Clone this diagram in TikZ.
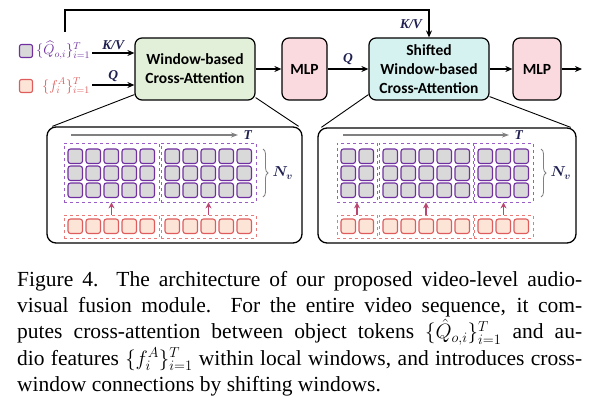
\documentclass[tikz,border=0pt]{standalone}
\usepackage{amsmath,amssymb}
\usepackage{fontspec}
\setmainfont{Liberation Serif}
\newfontfamily\boxfont{Carlito}
\usetikzlibrary{calc,fit,arrows.meta,decorations.pathreplacing}
\definecolor{tokpurple}{HTML}{7030A0}
\definecolor{winpurple}{HTML}{9A5CC6}
\definecolor{tokgray}{HTML}{D9D9D9}
\definecolor{audred}{HTML}{DE5C5C}
\definecolor{winred}{HTML}{E87A7A}
\definecolor{audfill}{HTML}{FCE4D6}
\definecolor{attgreen}{HTML}{E2F0D9}
\definecolor{mlppink}{HTML}{FADADF}
\definecolor{shiftcyan}{HTML}{D5F2F0}
\definecolor{lblnavy}{HTML}{1F2050}
\definecolor{upred}{HTML}{B84670}
\colorlet{timegray}{black!50}

\tikzset{
  blockbox/.style={draw, line width=1.2pt, rounded corners=7pt, align=center,
    inner sep=0pt, font=\boxfont\bfseries\fontsize{15.5}{19}\selectfont},
  panel/.style={draw, line width=1.3pt, rounded corners=9pt, inner sep=0pt},
  vidwin/.style={draw=winpurple, dashed, line width=0.8pt, inner sep=0pt},
  audwin/.style={draw=winred, dashed, line width=0.8pt, inner sep=0pt},
  vtok/.style={draw=tokpurple, fill=tokgray, line width=1.1pt, rounded corners=2.5pt},
  atok/.style={draw=audred, fill=audfill, line width=1.1pt, rounded corners=2.5pt},
  flow/.style={-{Stealth[length=7pt,width=6pt]}, line width=1.3pt},
  liftarrow/.style={draw=upred, -{Stealth[length=6pt,width=6pt]}, line width=1.3pt},
  timeline/.style={draw=timegray, -{Stealth[length=7pt,width=5pt]}, line width=1.4pt},
  lbl/.style={text=lblnavy, font=\bfseries\itshape\fontsize{13.5}{15}\selectfont, inner sep=1pt},
  legtxt/.style={font=\fontsize{14.5}{17}\selectfont, inner sep=0pt, anchor=west},
}

\begin{document}
\begin{tikzpicture}[x=1pt, y=-1pt]
  \useasboundingbox (0,0) rectangle (596,406);

  % main blocks
  \node[blockbox, fill=attgreen, minimum width=120pt, minimum height=62pt] (wca) at (195,69) {Window-based\\Cross-Attention};
  \node[blockbox, fill=mlppink, minimum width=45pt, minimum height=62pt] (mlpa) at (304.5,69) {MLP};
  \node[blockbox, fill=shiftcyan, minimum width=120pt, minimum height=62pt] (swca) at (429,69) {Shifted\\Window-based\\Cross-Attention};
  \node[blockbox, fill=mlppink, minimum width=48pt, minimum height=62pt] (mlpb) at (537,69) {MLP};

  % legend
  \node[draw=tokpurple, fill=tokgray, line width=1.1pt, rounded corners=2pt, minimum size=13pt, inner sep=0pt] (qkey) at (26,51) {};
  \node[draw=audred, fill=audfill, line width=1.1pt, rounded corners=2pt, minimum size=13pt, inner sep=0pt] (fkey) at (26,86) {};
  \node[legtxt, text=tokpurple] (qtxt) at (36,50) {$\{\widehat{Q}_{o,i}\}^T_{i=1}$};
  \node[legtxt, text=audred] (ftxt) at (42,86) {$\{f^A_i\}^T_{i=1}$};

  % inputs and flow
  \coordinate (kvin) at (92,53);
  \coordinate (qin) at (92,85);
  \coordinate (fb) at (65,32);
  \coordinate (out) at (582,69);
  \draw[flow] (kvin) -- node[lbl, above=2pt] {K/V} (kvin -| wca.west);
  \draw[flow] (qin) -- node[lbl, above=2pt] {Q} (qin -| wca.west);
  \draw[flow] (wca) -- (mlpa);
  \draw[flow] (mlpa) -- node[lbl, above=3pt] {Q} (swca);
  \draw[flow] (swca) -- (mlpb);
  \draw[flow] (mlpb) -- (out);
  \draw[flow] (fb) -- (65,10) -| (swca.north);
  \node[lbl] (kvtop) at (411,24) {K/V};

  % zoom panels
  \node[panel, minimum width=255pt, minimum height=116pt] (pa) at (174.5,185) {};
  \node[panel, minimum width=258pt, minimum height=115pt] (pb) at (447,185.5) {};
  \draw[line width=0.9pt] ($(wca.south west)+(0,-6)$) -- ($(pa.north west)+(6,0)$);
  \draw[line width=0.9pt] ($(wca.south east)+(0,-3)$) -- ($(pa.north east)+(-4,0)$);
  \draw[line width=0.9pt] ($(swca.south west)+(0,-6)$) -- ($(pb.north west)+(4,0)$);
  \draw[line width=0.9pt] ($(swca.south east)+(0,-4)$) -- ($(pb.north east)+(-6,0)$);

  % left panel: windows
  \coordinate (ta) at (71,135);
  \coordinate (tb) at (238,135);
  \draw[timeline] (ta) -- (tb) node[lbl, right=4pt] (tla) {T};
  \foreach \x in {68,86,104,122,140,165,183,201,219,237}{
    \foreach \y in {149,166,183}{
      \draw[vtok] (\x,\y) rectangle ++(14.5,14.5);
    }
    \draw[atok] (\x,219) rectangle ++(14.5,14.5);
  }
  \node[vidwin, fit={(64,143) (159,202)}] (va1) {};
  \node[vidwin, fit={(161,143) (256,202)}] (va2) {};
  \node[audwin, fit={(64,215) (159,238)}] (aa1) {};
  \node[audwin, fit={(161,215) (256,238)}] (aa2) {};
  \draw[liftarrow] (aa1) -- (va1);
  \draw[liftarrow] (aa2) -- (va2);
  \draw[timegray, line width=0.8pt, decorate, decoration={brace, amplitude=5pt}] (263,149) -- (263,197)
    node[midway, right=6pt, text=lblnavy, font=\fontsize{14}{16}\selectfont] (nva) {$\boldsymbol{N_v}$};

  % right panel: shifted windows
  \coordinate (tc) at (343,135);
  \coordinate (td) at (509,135);
  \draw[timeline] (tc) -- (td) node[lbl, right=4pt] (tlb) {T};
  \foreach \x in {341,359,383,401,419,437,455,478,496,514}{
    \foreach \y in {149,166,183}{
      \draw[vtok] (\x,\y) rectangle ++(14.5,14.5);
    }
    \draw[atok] (\x,219) rectangle ++(14.5,14.5);
  }
  \node[vidwin, fit={(337,143) (377,202)}] (vb1) {};
  \node[vidwin, fit={(379,143) (473,202)}] (vb2) {};
  \node[vidwin, fit={(474,143) (533,202)}] (vb3) {};
  \node[audwin, fit={(337,215) (377,238)}] (ab1) {};
  \node[audwin, fit={(379,215) (473,238)}] (ab2) {};
  \node[audwin, fit={(474,215) (533,238)}] (ab3) {};
  \draw[liftarrow] (ab1) -- (vb1);
  \draw[liftarrow] (ab2) -- (vb2);
  \draw[liftarrow] (ab3) -- (vb3);
  \draw[timegray, line width=0.8pt, decorate, decoration={brace, amplitude=5pt}] (541,149) -- (541,197)
    node[midway, right=6pt, text=lblnavy, font=\fontsize{14}{16}\selectfont] (nvb) {$\boldsymbol{N_v}$};

  % caption
  \node[anchor=north west, inner sep=0pt, align=left, font=\fontsize{21.5}{26.3}\selectfont] (cap) at (17,271) {%
    \makebox[565pt][s]{Figure 4.\ \ The architecture of our proposed video-level audio-}\\
    \makebox[565pt][s]{visual fusion module.\ \ For the entire video sequence, it com-}\\
    \makebox[565pt][s]{putes cross-attention between object tokens $\{\hat{Q}_{o,i}\}^T_{i=1}$ and au-}\\
    \makebox[565pt][s]{dio features $\{f^A_i\}^T_{i=1}$ within local windows, and introduces cross-}\\
    window connections by shifting windows.};
\end{tikzpicture}
\end{document}
